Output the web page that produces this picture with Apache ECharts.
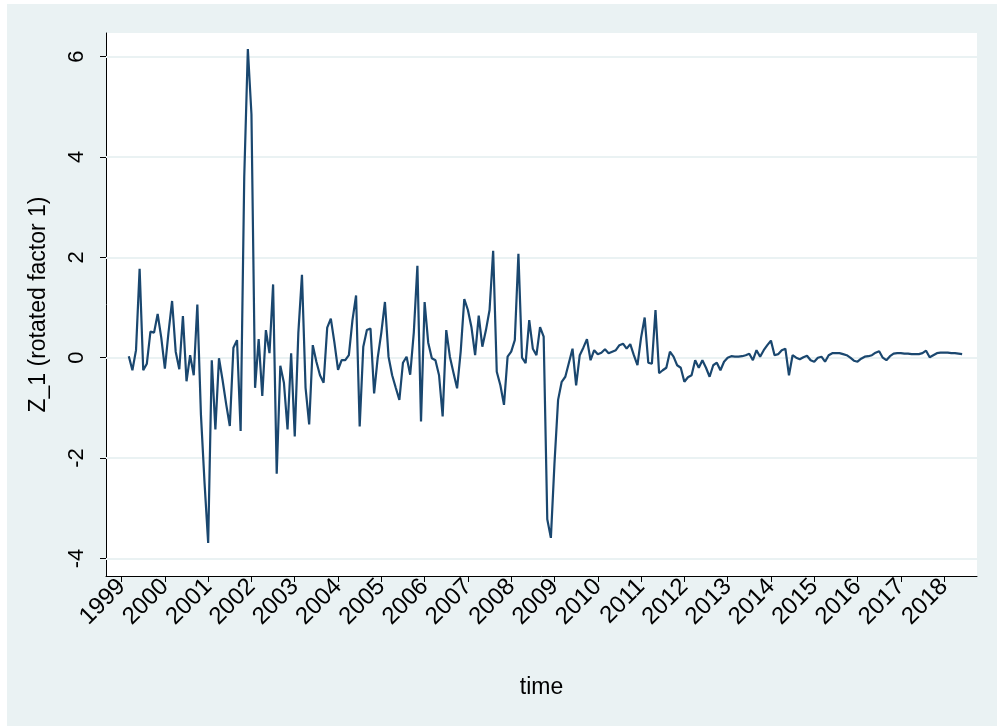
<!DOCTYPE html>
<html>
<head>
<meta charset="utf-8">
<script src="https://cdn.jsdelivr.net/npm/echarts@6/dist/echarts.min.js"></script>
<style>
  html, body { margin: 0; padding: 0; background: #ffffff; }
  #chart { position: absolute; left: 7px; top: 4px; width: 990px; height: 722px; }
</style>
</head>
<body>
<div id="chart"></div>
<script>
// Monthly factor scores, first observation March 1999
const startYear = 1999;
const startMonth = 3;

const z1999 = [0.03, -0.25, 0.15, 1.77, -0.25, -0.12, 0.52, 0.50, 0.87, 0.40];
const z2000 = [-0.22, 0.50, 1.13, 0.12, -0.23, 0.83, -0.47, 0.05, -0.35, 1.06, -1.14, -2.50];
const z2001 = [-3.69, -0.05, -1.43, -0.01, -0.45, -0.93, -1.36, 0.20, 0.35, -1.46, 3.60, 6.15];
const z2002 = [4.85, -0.60, 0.37, -0.76, 0.55, 0.09, 1.46, -2.31, -0.16, -0.50, -1.43, 0.09];
const z2003 = [-1.57, 0.50, 1.65, -0.60, -1.33, 0.25, -0.08, -0.35, -0.50, 0.60, 0.78, 0.30];
const z2004 = [-0.24, -0.05, -0.05, 0.05, 0.75, 1.24, -1.37, 0.22, 0.55, 0.58, -0.71, 0.00];
const z2005 = [0.50, 1.11, 0.02, -0.35, -0.60, -0.84, -0.10, 0.02, -0.34, 0.50, 1.83, -1.27];
const z2006 = [1.11, 0.30, -0.01, -0.05, -0.35, -1.17, 0.55, 0.02, -0.30, -0.61, 0.12, 1.17];
const z2007 = [0.95, 0.60, 0.05, 0.84, 0.22, 0.55, 0.95, 2.13, -0.28, -0.55, -0.94, 0.02];
const z2008 = [0.12, 0.35, 2.07, 0.00, -0.11, 0.75, 0.18, 0.05, 0.61, 0.42, -3.22, -3.59];
const z2009 = [-2.10, -0.84, -0.48, -0.38, -0.10, 0.18, -0.55, 0.05, 0.20, 0.37, -0.05, 0.15];
const z2010 = [0.07, 0.10, 0.17, 0.09, 0.12, 0.15, 0.25, 0.28, 0.18, 0.27, 0.05, -0.15];
const z2011 = [0.40, 0.80, -0.10, -0.12, 0.95, -0.31, -0.25, -0.20, 0.12, 0.02, -0.15, -0.20];
const z2012 = [-0.48, -0.39, -0.35, -0.05, -0.20, -0.05, -0.20, -0.38, -0.15, -0.10, -0.25, -0.08];
const z2013 = [0.00, 0.03, 0.02, 0.02, 0.03, 0.05, 0.08, -0.05, 0.15, 0.02, 0.15, 0.25];
const z2014 = [0.34, 0.05, 0.07, 0.15, 0.18, -0.35, 0.05, 0.00, -0.03, 0.01, 0.04, -0.05];
const z2015 = [-0.08, 0.00, 0.02, -0.08, 0.05, 0.09, 0.09, 0.09, 0.07, 0.05, 0.00, -0.06];
const z2016 = [-0.08, -0.02, 0.02, 0.03, 0.05, 0.10, 0.13, 0.00, -0.05, 0.03, 0.08, 0.09];
const z2017 = [0.09, 0.08, 0.08, 0.07, 0.07, 0.07, 0.09, 0.14, 0.01, 0.05, 0.09, 0.10];
const z2018 = [0.10, 0.10, 0.09, 0.09, 0.08, 0.07];

const yTicks = [-4, -2, 0, 2, 4, 6];
const yearTicks = [1999, 2000, 2001, 2002, 2003, 2004, 2005, 2006, 2007, 2008, 2009,
                   2010, 2011, 2012, 2013, 2014, 2015, 2016, 2017, 2018];
const yTitle = 'Z_1 (rotated factor 1)';
const xTitle = 'time';

// Place each monthly value at year + (month - 1) / 12
const yearly = [z1999, z2000, z2001, z2002, z2003, z2004, z2005, z2006, z2007, z2008,
                z2009, z2010, z2011, z2012, z2013, z2014, z2015, z2016, z2017, z2018];
const points = [];
let yr = startYear, mo = startMonth;
yearly.forEach(function (arr) {
  arr.forEach(function (v) {
    points.push([yr + (mo - 1) / 12, v]);
    mo += 1;
    if (mo > 12) { mo = 1; yr += 1; }
  });
});

const font = '"Liberation Sans", Arial, sans-serif';
const ink = '#000000';
const gridColor = '#eaf2f3';

const chart = echarts.init(document.getElementById('chart'), null, { renderer: 'canvas' });
chart.setOption({
  backgroundColor: '#eaf2f3',
  animation: false,
  grid: {
    left: 99, top: 29, width: 871, height: 543,
    show: true, backgroundColor: '#ffffff', borderWidth: 0
  },
  xAxis: {
    type: 'value',
    min: 1998.64,
    max: 2018.76,
    name: xTitle,
    nameLocation: 'middle',
    nameGap: 100,
    nameTextStyle: { color: ink, fontSize: 23, fontFamily: font },
    axisLine: { show: true, onZero: false, lineStyle: { color: ink, width: 1 } },
    axisTick: { show: true, customValues: yearTicks, length: 6, lineStyle: { color: ink, width: 1 } },
    axisLabel: {
      customValues: yearTicks, rotate: 45, margin: 7,
      formatter: function (v) { return String(Math.round(v)); },
      color: ink, fontSize: 24, fontFamily: font
    },
    splitLine: { show: false }
  },
  yAxis: {
    type: 'value',
    min: -4.35,
    max: 6.47,
    name: yTitle,
    nameLocation: 'middle',
    nameRotate: 90,
    nameGap: 56,
    nameTextStyle: { color: ink, fontSize: 23, fontFamily: font },
    axisLine: { show: true, onZero: false, lineStyle: { color: ink, width: 1 } },
    axisTick: { show: true, customValues: yTicks, length: 6, lineStyle: { color: ink, width: 1 } },
    axisLabel: {
      customValues: yTicks, rotate: 90, margin: 18,
      formatter: function (v) { return String(Math.round(v)); },
      color: ink, fontSize: 22, fontFamily: font
    },
    splitLine: { show: false }
  },
  series: [{
    type: 'line',
    data: points,
    showSymbol: false,
    symbol: 'none',
    z: 3,
    lineStyle: { color: '#1a476f', width: 2.2 },
    markLine: {
      silent: true,
      z: 1,
      symbol: ['none', 'none'],
      label: { show: false },
      lineStyle: { color: gridColor, width: 2, type: 'solid' },
      data: yTicks.map(function (v) { return { yAxis: v }; })
    }
  }]
});
</script>
</body>
</html>
